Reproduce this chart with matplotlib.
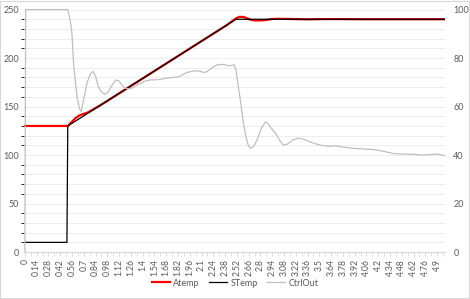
import matplotlib
matplotlib.use("Agg")
import matplotlib.pyplot as plt
from matplotlib.patches import Rectangle
import numpy as np

plt.rcParams["font.family"] = ["Lato", "DejaVu Sans"]

# Data (time in s, temps on left axis, CtrlOut on right axis)
stemp_t = [0.00, 0.50, 0.51, 2.51, 4.99]
stemp_v = [10, 10, 130, 240, 240]

atemp_t = [0.00, 0.51, 0.55, 0.60, 0.65, 0.70, 0.75, 0.80, 0.90, 1.00, 1.50, 2.00,
           2.40, 2.47, 2.51, 2.55, 2.60, 2.64, 2.68, 2.73, 2.80, 2.87, 2.93, 3.00,
           3.10, 3.20, 3.35, 3.50, 3.70, 4.00, 4.99]
atemp_v = [130, 130, 133.5, 138, 141, 142.5, 144, 146.5, 151.5, 157, 184.5, 212,
           234, 238.5, 241, 242.5, 242.3, 241, 239.5, 238.8, 238.8, 239.3, 240.2, 240.5,
           240.4, 240.2, 239.9, 240.1, 240.2, 240, 240]

ctrl_t = [0.00, 0.01, 0.51, 0.53, 0.55, 0.56, 0.58, 0.62, 0.65, 0.67, 0.70, 0.74,
          0.78, 0.81, 0.84, 0.87, 0.90, 0.95, 0.99, 1.03, 1.08, 1.12, 1.16, 1.20,
          1.25, 1.30, 1.37, 1.43, 1.49, 1.55, 1.62, 1.69, 1.76, 1.82, 1.87, 1.92,
          1.97, 2.03, 2.08, 2.14, 2.19, 2.24, 2.29, 2.36, 2.42, 2.46, 2.49, 2.51,
          2.53, 2.56, 2.59, 2.62, 2.65, 2.68, 2.72, 2.76, 2.81, 2.86, 2.89, 2.93,
          2.98, 3.03, 3.07, 3.12, 3.18, 3.24, 3.29, 3.35, 3.42, 3.51, 3.60, 3.69,
          3.78, 3.90, 4.02, 4.14, 4.26, 4.38, 4.50, 4.62, 4.73, 4.82, 4.90, 4.99]
ctrl_v = [0, 100, 100, 97, 93, 90, 77, 64, 59, 58, 63, 70,
          73.5, 74.5, 72.5, 68.5, 66.5, 65, 66, 68.5, 71, 70.5, 68.5, 67.5,
          67.3, 68.2, 69.5, 70.5, 71, 71, 71.3, 71.8, 72, 72.2, 73, 74,
          74.4, 74.8, 74.6, 74, 75, 76.5, 77.2, 77.4, 76.8, 77, 77.2, 75,
          70, 63, 55, 49, 44.5, 42.8, 43.5, 46.2, 51, 53.7, 53, 51,
          49, 46, 44.1, 44.5, 46.2, 46.9, 46.8, 46, 45, 44.1, 43.6, 43.8,
          43.3, 42.8, 42.5, 42.3, 41.6, 40.6, 40.4, 40.3, 40, 40.2, 40.4, 39.8]

tick_pos = np.round(np.arange(0, 4.95, 0.14), 2)
tick_labels = [f"{v:g}" for v in tick_pos]

GRID = "#EDEDED"
TXT = "#595959"

fig = plt.figure(figsize=(4.70, 2.99), dpi=100)
fig.patches.append(Rectangle((0.001, 0.002), 0.997, 0.995, transform=fig.transFigure,
                             fill=False, edgecolor="#D9D9D9", linewidth=0.8))

ax = fig.add_axes([0.052, 0.157, 0.895, 0.811])
ax2 = ax.twinx()

l1, = ax.plot(atemp_t, atemp_v, color="#FF0000", linewidth=1.6, label="Atemp")
l2, = ax.plot(stemp_t, stemp_v, color="#000000", linewidth=0.9, label="STemp")
l3, = ax2.plot(ctrl_t, ctrl_v, color="#BFBFBF", linewidth=0.9, label="CtrlOut",
               clip_on=False)

ax.set_xlim(-0.005, 4.995)
ax.set_ylim(0, 250)
ax2.set_ylim(0, 100)
ax.set_yticks(np.arange(0, 251, 50))
ax.set_yticks(np.arange(0, 251, 10), minor=True)
ax2.set_yticks(np.arange(0, 101, 20))
ax.yaxis.grid(True, which="both", color=GRID, linewidth=0.7)
ax.set_axisbelow(True)

ax.set_xticks(tick_pos)
ax.set_xticklabels(tick_labels, rotation=90)
ax.set_xticks(np.round(np.arange(0.07, 4.99, 0.14), 2), minor=True)

for a in (ax, ax2):
    for s in ("top", "left", "right"):
        a.spines[s].set_visible(False)
    a.spines["bottom"].set_color("#D9D9D9")
    a.tick_params(axis="y", length=0, labelsize=6.5, labelcolor=TXT, pad=4)
ax.tick_params(axis="x", which="major", length=3, color="#D9D9D9", labelsize=6.2,
               labelcolor=TXT, pad=2)
ax.tick_params(axis="x", which="minor", length=3, color="#D9D9D9")
ax2.tick_params(axis="y", pad=6)

fig.legend(handles=[l1, l2, l3], loc="center", bbox_to_anchor=(0.5, 0.053), ncol=3,
           frameon=False, fontsize=6.5, handlelength=2.0, columnspacing=1.0,
           handletextpad=0.4, labelcolor=TXT)

fig.savefig("out.png", dpi=100)
